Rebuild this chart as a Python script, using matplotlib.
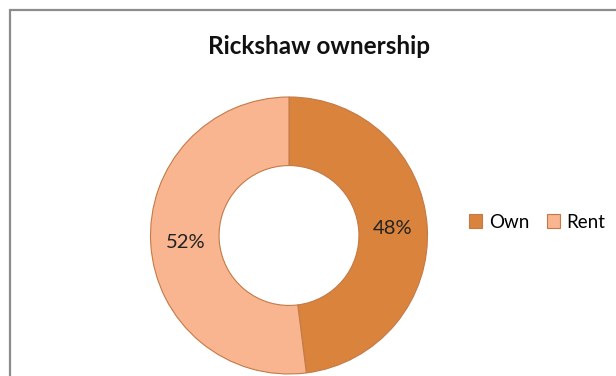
import matplotlib
matplotlib.use("Agg")
from matplotlib import pyplot as plt
from matplotlib.patches import Rectangle

labels = ["Own", "Rent"]
shares = [48, 52]
colors = ["#D9833D", "#F8B58F"]
title = "Rickshaw ownership"

plt.rcParams['font.family'] = ['Lato', 'DejaVu Sans']

fig = plt.figure(figsize=(6.16, 3.76), dpi=100)

# frame of the chart area (cropped on right / bottom)
fig.add_artist(Rectangle((10 / 616, -0.1), 1.2, (376 - 10) / 376 + 0.1,
                         transform=fig.transFigure, fill=False,
                         edgecolor="#8C8C8C", linewidth=1.6))

# pie axes: centre (289, 235.5) px, radius 138.5 px
r = 138.5
ax = fig.add_axes([(289 - r) / 616, (376 - 235.5 - r) / 376,
                   2 * r / 616, 2 * r / 376])
wedges, texts, autotexts = ax.pie(
    shares, colors=colors, startangle=90, counterclock=False,
    radius=1.0, autopct="%d%%", pctdistance=0.75,
    wedgeprops=dict(width=0.495, edgecolor="#C47A48", linewidth=0.8),
    textprops=dict(fontsize=14.5, color="#222222"))
ax.set_xlim(-1, 1)
ax.set_ylim(-1, 1)
ax.set_aspect("equal")
ax.axis("off")

fig.text(319 / 616, 1 - 46 / 376, title, ha="center", va="center",
         fontsize=17.5, fontweight="bold", color="#111111")

leg = fig.legend(wedges, labels, loc="center left",
                 bbox_to_anchor=(469 / 616, 1 - 222 / 376), ncol=2,
                 frameon=False, fontsize=13.5, handlelength=0.7,
                 handleheight=0.7, handletextpad=0.35, columnspacing=0.95,
                 borderaxespad=0, borderpad=0)

fig.savefig("out.png", dpi=100)
